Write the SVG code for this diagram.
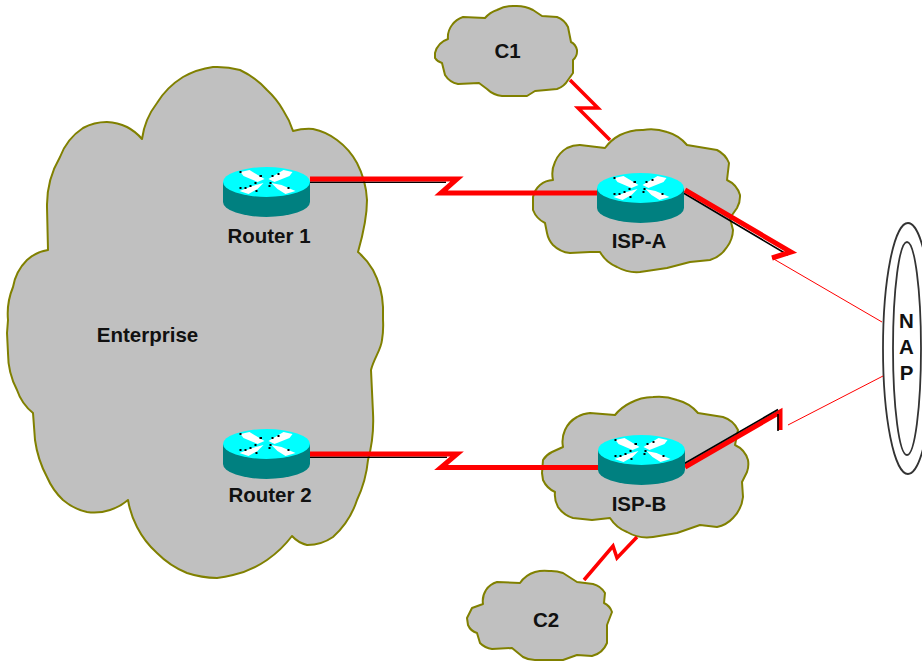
<svg xmlns="http://www.w3.org/2000/svg" xmlns:xlink="http://www.w3.org/1999/xlink" width="922" height="662" viewBox="0 0 922 662">
<style>
.cloud{fill:#c0c0c0;stroke:#808000;stroke-width:2;stroke-linejoin:round}
.lbl{font-family:"Liberation Sans",Arial,sans-serif;font-weight:700;font-size:20.500px;fill:#111;text-anchor:middle}
.thick{fill:none;stroke:#f00;stroke-width:5;stroke-linejoin:miter}
.mid{fill:none;stroke:#f00;stroke-width:3.500;stroke-linejoin:miter}
.thin{fill:none;stroke:#f00;stroke-width:1}
.shadow{fill:none;stroke:#000;stroke-width:1.600}
.nap{fill:#fff;stroke:#333;stroke-width:1.800}
</style>
<defs>
<g id="router">
<path d="M-43.500 0V20A43.500 15 0 0 0 43.500 20V0Z" fill="#008080"/>
<ellipse cx="0" cy="0" rx="43.500" ry="15" fill="#0ff"/>
<path d="M-26-10L-17-12L-2-3L-9 0L-23-6ZM26-10L17-12L2-3L8 0L23-6ZM-27 9L-14 4L-3 1L-9 7L-18 12ZM29 9L15 3L5 1L11 7L19 12Z" fill="#fff"/>
<g fill="#000">
<rect x="-27" y="-11" width="2" height="2"/><rect x="-7" y="-7" width="2.500" height="2"/><rect x="5" y="-7" width="2" height="2"/><rect x="11" y="-9" width="2" height="2"/>
<rect x="-27" y="5" width="2" height="2"/><rect x="-22" y="5" width="2" height="2"/><rect x="-17" y="3" width="2" height="2"/><rect x="-12" y="0" width="2" height="2"/>
<rect x="-11" y="8" width="2" height="2"/><rect x="3" y="0" width="2" height="2"/><rect x="2" y="3" width="2" height="2"/><rect x="21" y="5" width="2" height="2"/>
</g>
</g>
</defs>

<g id="enterprise">
<path class="cloud" d="M48 250L47 207A95 95 0 0 1 60 157A60 60 0 0 1 83 128A50 50 0 0 1 107 122A50 50 0 0 1 127 127A50 50 0 0 1 142 139A75 75 0 0 1 157 103A80 80 0 0 1 183 77A85 85 0 0 1 213 67A85 85 0 0 1 240 70A85 85 0 0 1 267 90A85 85 0 0 1 283 110A85 85 0 0 1 293 131A60 60 0 0 1 313 129A60 60 0 0 1 337 140A70 70 0 0 1 357 163A90 90 0 0 1 367 200C367 220 362 238 358 252A70 70 0 0 1 373 270A85 85 0 0 1 383 307L383 320A90 90 0 0 1 382 340C381 350 374 358 371 370L373 413A150 150 0 0 1 368 460A120 120 0 0 1 357 500A85 85 0 0 1 333 537A45 45 0 0 1 307 545A30 30 0 0 1 292 536A110 110 0 0 1 267 560A100 100 0 0 1 233 575A100 100 0 0 1 217 578A100 100 0 0 1 187 573A90 90 0 0 1 157 553A90 90 0 0 1 137 527A90 90 0 0 1 128 500A50 50 0 0 1 110 510A50 50 0 0 1 87 512A55 55 0 0 1 63 500A70 70 0 0 1 47 477A110 110 0 0 1 35 440L33 413A50 50 0 0 1 17 390A80 80 0 0 1 8 353L7 333L8 320A70 70 0 0 1 13 287A50 50 0 0 1 27 260A40 40 0 0 1 48 250Z"/>
<text class="lbl" x="147.500" y="342">Enterprise</text>
</g>

<g id="c1">
<path class="cloud" d="M435 53A20 20 0 0 1 448 39A20 20 0 0 1 452 25A22 22 0 0 1 463 17L485 18A28 28 0 0 1 497 10A35 35 0 0 1 515 6A35 35 0 0 1 533 10L542 16L557 17A20 20 0 0 1 568 27L571 42A12 12 0 0 1 577 50A12 12 0 0 1 573 60V73L568 80A20 20 0 0 1 557 89L535 91L527 96H502A25 25 0 0 1 487 89L479 83L458 84A20 20 0 0 1 445 75L442 63A12 12 0 0 1 435 58Z"/>
<text class="lbl" x="507.500" y="58">C1</text>
</g>

<g id="c2">
<path class="cloud" d="M467 618L472 608L483 604A20 20 0 0 1 486 590A20 20 0 0 1 497 582L520 583A28 28 0 0 1 535 572A35 35 0 0 1 549 571A35 35 0 0 1 563 573L577 582L593 584A20 20 0 0 1 605 593L604 603A15 15 0 0 1 612 612L607 625V643A22 22 0 0 1 592 656L577 655L563 660H537A25 25 0 0 1 523 657L512 648L492 649A20 20 0 0 1 480 643L477 633A14 14 0 0 1 468 625Z"/>
<text class="lbl" x="546" y="627">C2</text>
</g>

<g id="isp-a-cloud">
<path class="cloud" d="M533 197A22 22 0 0 1 540 185A22 22 0 0 1 553 180A28 28 0 0 1 555 162A28 28 0 0 1 567 148A28 28 0 0 1 580 145L605 148A45 45 0 0 1 620 135A50 50 0 0 1 643 130A50 50 0 0 1 667 132A40 40 0 0 1 687 145L717 150A25 25 0 0 1 729 163L727 180A24 24 0 0 1 740 195A24 24 0 0 1 737 208L730 218L733 230A30 30 0 0 1 727 247A30 30 0 0 1 710 260L690 262L667 268L640 272A40 40 0 0 1 617 267A35 35 0 0 1 600 252L590 252L570 253A28 28 0 0 1 553 245A25 25 0 0 1 547 233L545 223A24 24 0 0 1 533 210Z"/>
</g>

<g id="isp-b-cloud">
<path class="cloud" d="M542 473L543 460A22 22 0 0 1 552 452L563 447A28 28 0 0 1 565 430A28 28 0 0 1 577 417A28 28 0 0 1 590 413L615 415A45 45 0 0 1 630 403A50 50 0 0 1 653 397A50 50 0 0 1 677 400A40 40 0 0 1 698 413L723 417A25 25 0 0 1 738 430L735 445A24 24 0 0 1 748 460A24 24 0 0 1 747 472L742 482L743 497A35 35 0 0 1 733 518A30 30 0 0 1 717 527L700 525L677 533L653 537A40 40 0 0 1 627 532A35 35 0 0 1 610 518L592 520L573 518A28 28 0 0 1 558 507A25 25 0 0 1 555 492A24 24 0 0 1 543 480Z"/>
</g>

<g id="nap">
<ellipse class="nap" cx="908" cy="348.500" rx="25" ry="125.500"/>
<ellipse class="nap" cx="907" cy="348.500" rx="14" ry="106.500"/>
<text class="lbl" x="906.500" y="328">N</text>
<text class="lbl" x="906.500" y="354">A</text>
<text class="lbl" x="906.500" y="380">P</text>
</g>

<g id="connectors">
<path class="shadow" d="M310 182.300H446"/>
<path class="thick" d="M310 179H457L441 193H597"/>
<path class="shadow" d="M310 457.300H447"/>
<path class="thick" d="M310 454H457L441 467.500H598"/>
<path class="shadow" d="M683.500 193L788 255"/>
<path class="thick" d="M685 190L791 252L772 258"/>
<path class="thin" d="M772 258L882 322"/>
<path class="thick" d="M685 467L780 412V430"/>
<path class="shadow" d="M683.500 464L778 409.500M778 414V431"/>
<path class="thin" d="M788 425L883 376"/>
<path class="mid" d="M570 80L598 108H578L610 140"/>
<path class="mid" d="M584 580L613 546L617 558L637 537"/>
</g>

<g id="router-1"><use href="#router" xlink:href="#router" x="266.500" y="182"/><text class="lbl" x="269" y="243">Router 1</text></g>
<g id="router-2"><use href="#router" xlink:href="#router" x="266.500" y="444"/><text class="lbl" x="270" y="502">Router 2</text></g>
<g id="isp-a"><use href="#router" xlink:href="#router" x="640.500" y="188"/><text class="lbl" x="639" y="248">ISP-A</text></g>
<g id="isp-b"><use href="#router" xlink:href="#router" x="641.500" y="450"/><text class="lbl" x="639" y="511">ISP-B</text></g>
</svg>
